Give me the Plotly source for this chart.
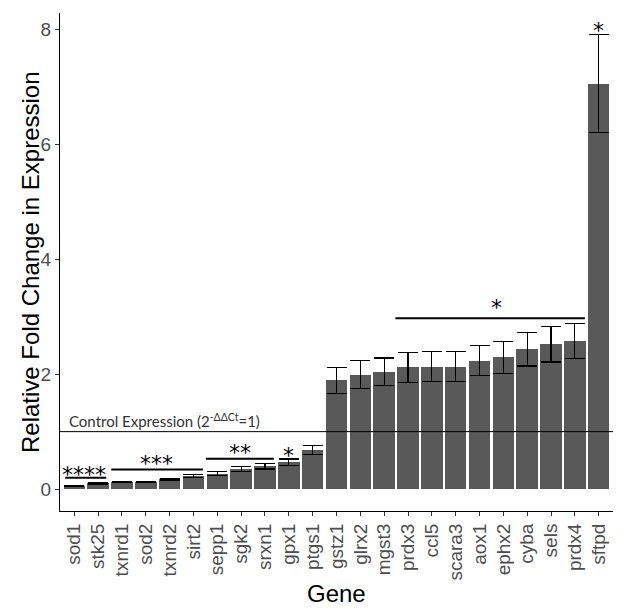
import plotly.graph_objects as go

genes = ["sod1", "stk25", "txnrd1", "sod2", "txnrd2", "sirt2", "sepp1", "sgk2",
         "srxn1", "gpx1", "ptgs1", "gstz1", "glrx2", "mgst3", "prdx3", "ccl5",
         "scara3", "aox1", "ephx2", "cyba", "sels", "prdx4", "sftpd"]
fold_change = [0.05, 0.10, 0.12, 0.12, 0.17, 0.23, 0.27, 0.35,
               0.40, 0.47, 0.68, 1.89, 1.99, 2.04, 2.12, 2.13,
               2.13, 2.235, 2.29, 2.435, 2.52, 2.575, 7.05]
std_err = [0.005, 0.01, 0.01, 0.01, 0.012, 0.03, 0.035, 0.04,
           0.05, 0.055, 0.075, 0.22, 0.245, 0.24, 0.26, 0.26,
           0.26, 0.265, 0.28, 0.295, 0.31, 0.305, 0.85]

# significance brackets: (x start, x end, y)
sig_lines = [(-0.38, 1.34, 0.20), (1.55, 5.40, 0.34), (5.52, 8.37, 0.53), (13.47, 21.42, 2.97)]
# significance labels: (text, x, y)
sig_labels = [("****", 0.42, 0.35), ("***", 3.43, 0.53), ("**", 6.95, 0.73),
              ("*", 8.97, 0.67), ("*", 17.7, 3.24), ("*", 22.0, 8.07)]

control_level = 1.0
y_ticks = [0, 2, 4, 6, 8]

fig = go.Figure()
fig.add_trace(go.Bar(
    x=list(range(len(genes))), y=fold_change, width=0.9,
    marker=dict(color="#595959", line=dict(width=0)),
    error_y=dict(type="data", array=std_err, visible=True, color="black",
                 thickness=1.2, width=10),
    showlegend=False,
))

for x0, x1, yv in sig_lines:
    fig.add_shape(type="line", x0=x0, x1=x1, y0=yv, y1=yv, xref="x", yref="y",
                  line=dict(color="black", width=2))
for txt, xv, yv in sig_labels:
    fig.add_annotation(x=xv, y=yv, text=txt, showarrow=False, xref="x", yref="y",
                       yanchor="middle", yshift=-5,
                       font=dict(family="DejaVu Sans", size=22, color="black"))

fig.add_shape(type="line", xref="paper", x0=0, x1=1, yref="y", y0=control_level, y1=control_level,
              line=dict(color="black", width=1))
fig.add_annotation(xref="paper", x=0.012, yref="y", y=1.19, xanchor="left", yanchor="middle",
                   text="Control Expression (2<sup>-ΔΔCt</sup>=1)", showarrow=False,
                   font=dict(family="Lato, Open Sans, sans-serif", size=15, color="#333333"))

# axis titles
fig.add_annotation(xref="paper", yref="paper", x=0.5, y=0, yanchor="middle", yshift=-82,
                   text="Gene", showarrow=False,
                   font=dict(family="Liberation Sans, Arial", size=24, color="black"))
fig.add_annotation(xref="paper", yref="paper", x=0, y=0.5, xanchor="center", yanchor="middle",
                   xshift=-30, textangle=-90, text="Relative Fold Change in Expression",
                   showarrow=False,
                   font=dict(family="Liberation Sans, Arial", size=24, color="black"))

fig.update_layout(
    width=629, height=614,
    margin=dict(l=52, r=24, t=5, b=111),
    plot_bgcolor="white", paper_bgcolor="white",
    bargap=0,
)
fig.update_xaxes(
    range=[-0.6, 22.6], automargin=False,
    tickmode="array", tickvals=list(range(len(genes))), ticktext=genes,
    tickangle=-90, ticks="outside", ticklen=4, tickcolor="#333333",
    tickfont=dict(family="Liberation Sans, Arial", size=19, color="#4d4d4d"),
    showline=True, linecolor="black", linewidth=1, showgrid=False, zeroline=False,
)
fig.update_yaxes(
    range=[-0.38, 8.28], automargin=False,
    tickmode="array", tickvals=y_ticks, ticktext=[str(v) for v in y_ticks],
    ticks="outside", ticklen=4, tickcolor="#333333",
    tickfont=dict(family="Liberation Sans, Arial", size=19, color="#4d4d4d"),
    showline=True, linecolor="black", linewidth=1, showgrid=False, zeroline=False,
)

fig.write_html("out.html")
